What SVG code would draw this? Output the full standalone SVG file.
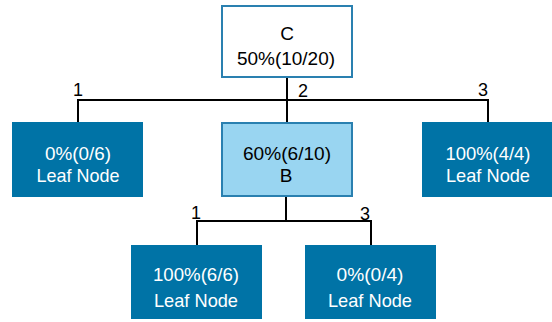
<svg xmlns="http://www.w3.org/2000/svg" width="552" height="322" viewBox="0 0 552 322">
  <style>
    .root { fill: #ffffff; stroke: #2a80b0; stroke-width: 2; }
    .inner { fill: #99d5f1; stroke: #2a80b0; stroke-width: 2; }
    .leaf { fill: #0073a6; }
    .t { font-family: "Liberation Sans", Arial, sans-serif; font-size: 19px; text-anchor: middle; }
    .dark { fill: #000000; }
    .light { fill: #ffffff; }
    .lbl { font-family: "Liberation Sans", Arial, sans-serif; font-size: 18px; text-anchor: middle; fill: #000000; }
    .edge { stroke: #000000; stroke-width: 2; fill: none; }
  </style>
  <rect width="552" height="322" fill="#ffffff"/>

  <g id="connectors">
    <!-- root C to its three branches -->
    <path class="edge" d="M287 77 V122"/>
    <path class="edge" d="M78 122 V100 H488 V122"/>
    <!-- node B to its two branches -->
    <path class="edge" d="M286 196 V221"/>
    <path class="edge" d="M197 245 V221 H371 V245"/>
    <text class="lbl" x="78" y="96">1</text>
    <text class="lbl" x="303" y="97">2</text>
    <text class="lbl" x="483" y="96">3</text>
    <text class="lbl" x="196" y="219">1</text>
    <text class="lbl" x="365" y="220">3</text>
  </g>

  <g id="node-c">
    <rect class="root" x="222" y="6" width="130" height="71"/>
    <text class="t dark" x="287" y="40">C</text>
    <text class="t dark" x="286" y="65" textLength="98" lengthAdjust="spacingAndGlyphs">50%(10/20)</text>
  </g>

  <g id="node-leaf-1">
    <rect class="leaf" x="12" y="122" width="131" height="75"/>
    <text class="t light" x="78" y="160" textLength="66" lengthAdjust="spacingAndGlyphs">0%(0/6)</text>
    <text class="t light" x="78" y="182" textLength="83" lengthAdjust="spacingAndGlyphs">Leaf Node</text>
  </g>

  <g id="node-b">
    <rect class="inner" x="222" y="123" width="130" height="73"/>
    <text class="t dark" x="287" y="160" textLength="88" lengthAdjust="spacingAndGlyphs">60%(6/10)</text>
    <text class="t dark" x="286" y="182">B</text>
  </g>

  <g id="node-leaf-3">
    <rect class="leaf" x="422" y="122" width="130" height="75"/>
    <text class="t light" x="488" y="160" textLength="85" lengthAdjust="spacingAndGlyphs">100%(4/4)</text>
    <text class="t light" x="488" y="182" textLength="84" lengthAdjust="spacingAndGlyphs">Leaf Node</text>
  </g>

  <g id="node-b-leaf-1">
    <rect class="leaf" x="131" y="245" width="131" height="74"/>
    <text class="t light" x="196" y="281" textLength="86" lengthAdjust="spacingAndGlyphs">100%(6/6)</text>
    <text class="t light" x="196" y="307" textLength="84" lengthAdjust="spacingAndGlyphs">Leaf Node</text>
  </g>

  <g id="node-b-leaf-3">
    <rect class="leaf" x="305" y="245" width="131" height="74"/>
    <text class="t light" x="370" y="281" textLength="67" lengthAdjust="spacingAndGlyphs">0%(0/4)</text>
    <text class="t light" x="370" y="307" textLength="84" lengthAdjust="spacingAndGlyphs">Leaf Node</text>
  </g>
</svg>
